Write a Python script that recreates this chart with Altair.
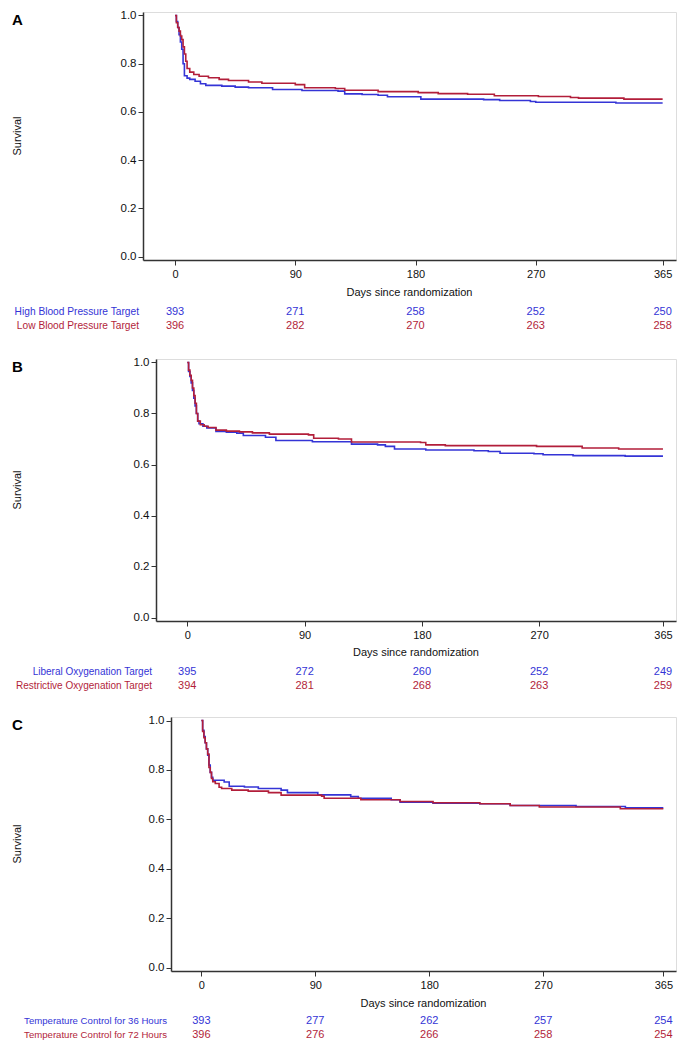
import altair as alt
import pandas as pd

FONT = "Liberation Sans"
BLUE = "#3434D6"
RED = "#B21E3A"

TICK_DAYS = [0, 90, 180, 270, 365]
Y_TICKS = [0.0, 0.2, 0.4, 0.6, 0.8, 1.0]
X_TITLE = "Days since randomization"
Y_TITLE = "Survival"

# ---------------- Panel A ----------------
A_LABELS = ["High Blood Pressure Target", "Low Blood Pressure Target"]
A_RISK_BLUE = [393, 271, 258, 252, 250]
A_RISK_RED = [396, 282, 270, 263, 258]
A_BLUE_DAYS = [0, 1, 2, 3, 4, 5, 6, 7, 9, 11, 15, 19, 23, 35, 45, 55, 73, 95, 122, 127, 140, 152, 159, 184, 231, 243, 266, 270, 330, 365]
A_BLUE_SURV = [1.0, 0.975, 0.95, 0.92, 0.89, 0.86, 0.80, 0.75, 0.74, 0.735, 0.727, 0.717, 0.71, 0.707, 0.703, 0.70, 0.693, 0.689, 0.686, 0.675, 0.672, 0.669, 0.663, 0.653, 0.651, 0.647, 0.643, 0.640, 0.637, 0.637]
A_RED_DAYS = [0, 1, 2, 3, 4, 5, 6, 7, 8, 9, 11, 14, 18, 25, 33, 40, 55, 65, 90, 97, 120, 127, 152, 182, 197, 219, 239, 272, 296, 302, 336, 365]
A_RED_SURV = [1.0, 0.97, 0.95, 0.935, 0.915, 0.90, 0.87, 0.84, 0.81, 0.78, 0.765, 0.755, 0.748, 0.742, 0.735, 0.73, 0.724, 0.719, 0.713, 0.70, 0.697, 0.690, 0.684, 0.680, 0.676, 0.673, 0.667, 0.664, 0.660, 0.657, 0.653, 0.653]

# ---------------- Panel B ----------------
B_LABELS = ["Liberal Oxygenation Target", "Restrictive Oxygenation Target"]
B_RISK_BLUE = [395, 272, 260, 252, 249]
B_RISK_RED = [394, 281, 268, 263, 259]
B_BLUE_DAYS = [0, 1, 2, 3, 4, 5, 6, 7, 8, 9, 12, 15, 22, 30, 38, 43, 60, 68, 96, 126, 146, 152, 159, 183, 220, 231, 240, 266, 273, 296, 336, 365]
B_BLUE_SURV = [1.0, 0.965, 0.945, 0.92, 0.89, 0.86, 0.83, 0.80, 0.77, 0.76, 0.75, 0.743, 0.73, 0.727, 0.723, 0.714, 0.707, 0.694, 0.689, 0.680, 0.677, 0.671, 0.661, 0.657, 0.654, 0.651, 0.644, 0.642, 0.638, 0.635, 0.633, 0.633]
B_RED_DAYS = [0, 1, 2, 3, 4, 5, 6, 7, 8, 10, 13, 16, 22, 30, 40, 50, 63, 93, 97, 116, 126, 179, 183, 198, 268, 303, 331, 365]
B_RED_SURV = [1.0, 0.97, 0.95, 0.93, 0.90, 0.87, 0.84, 0.80, 0.77, 0.756, 0.75, 0.745, 0.735, 0.731, 0.728, 0.724, 0.719, 0.716, 0.703, 0.700, 0.688, 0.686, 0.677, 0.674, 0.671, 0.665, 0.661, 0.661]

# ---------------- Panel C ----------------
C_LABELS = ["Temperature Control for 36 Hours", "Temperature Control for 72 Hours"]
C_RISK_BLUE = [393, 277, 262, 257, 254]
C_RISK_RED = [396, 276, 266, 258, 254]
C_BLUE_DAYS = [0, 1, 2, 3, 4, 5, 6, 7, 8, 9, 18, 22, 34, 45, 63, 68, 92, 118, 124, 150, 157, 183, 220, 244, 296, 335, 365]
C_BLUE_SURV = [1.0, 0.96, 0.935, 0.91, 0.885, 0.86, 0.82, 0.79, 0.77, 0.758, 0.751, 0.734, 0.731, 0.725, 0.718, 0.708, 0.699, 0.692, 0.685, 0.679, 0.669, 0.665, 0.663, 0.656, 0.652, 0.647, 0.647]
C_RED_DAYS = [0, 1, 2, 3, 4, 5, 6, 7, 8, 9, 11, 14, 16, 24, 37, 53, 63, 95, 97, 126, 157, 183, 220, 244, 267, 331, 365]
C_RED_SURV = [1.0, 0.956, 0.93, 0.91, 0.885, 0.864, 0.81, 0.79, 0.765, 0.752, 0.745, 0.73, 0.725, 0.718, 0.714, 0.708, 0.698, 0.694, 0.685, 0.679, 0.672, 0.667, 0.663, 0.656, 0.650, 0.643, 0.643]


def panel(letter, labels, bd, bs, rd, rs, nb, nr, W, H, lx, lab_size,
          row_h, t_off, r1, r2):
    pad = 3.5 / (H - 7)
    xs = alt.Scale(domain=[-24, 375], nice=False, zero=False)
    ys = alt.Scale(domain=[-pad, 1 + pad], nice=False, zero=False)
    xaxis = alt.Axis(values=TICK_DAYS, title=None, grid=False, tickSize=5,
                     labelPadding=3, labelFontSize=11, labelFont=FONT,
                     labelColor="#111", domainColor="#333", domainWidth=1.5,
                     tickColor="#333", tickWidth=1)
    yaxis = alt.Axis(values=Y_TICKS, format=".1f", title=None, grid=False,
                     tickSize=5, labelPadding=2, labelFontSize=11.5,
                     labelFont=FONT, labelColor="#111", domainColor="#333",
                     domainWidth=1.5, tickColor="#333", tickWidth=1)

    blue_df = pd.DataFrame({"day": bd, "surv": bs})
    red_df = pd.DataFrame({"day": rd, "surv": rs})

    blue = alt.Chart(blue_df).mark_line(
        interpolate="step-after", color=BLUE, strokeWidth=1.6
    ).encode(x=alt.X("day:Q", scale=xs, axis=xaxis),
             y=alt.Y("surv:Q", scale=ys, axis=yaxis))
    red = alt.Chart(red_df).mark_line(
        interpolate="step-after", color=RED, strokeWidth=1.6
    ).encode(x=alt.X("day:Q"), y=alt.Y("surv:Q"))

    risk_b = alt.Chart(pd.DataFrame({"day": TICK_DAYS, "n": nb})).mark_text(
        color=BLUE, fontSize=11, font=FONT, baseline="middle"
    ).encode(x=alt.X("day:Q"), y=alt.value(H + r1), text="n:Q")
    risk_r = alt.Chart(pd.DataFrame({"day": TICK_DAYS, "n": nr})).mark_text(
        color=RED, fontSize=11, font=FONT, baseline="middle"
    ).encode(x=alt.X("day:Q"), y=alt.value(H + r2), text="n:Q")

    lab_b = alt.Chart(pd.DataFrame({"t": [labels[0]]})).mark_text(
        color=BLUE, fontSize=lab_size, font=FONT, align="right", baseline="middle"
    ).encode(x=alt.value(-4), y=alt.value(H + r1), text="t:N")
    lab_r = alt.Chart(pd.DataFrame({"t": [labels[1]]})).mark_text(
        color=RED, fontSize=lab_size, font=FONT, align="right", baseline="middle"
    ).encode(x=alt.value(-4), y=alt.value(H + r2), text="t:N")

    xtitle = alt.Chart(pd.DataFrame({"t": [X_TITLE]})).mark_text(
        color="#111", fontSize=11, font=FONT, align="center", baseline="middle"
    ).encode(x=alt.value(W / 2), y=alt.value(H + t_off), text="t:N")
    ytitle = alt.Chart(pd.DataFrame({"t": [Y_TITLE]})).mark_text(
        color="#111", fontSize=11, font=FONT, align="center", baseline="middle", angle=270
    ).encode(x=alt.value(lx + 6), y=alt.value(H / 2), text="t:N")
    let = alt.Chart(pd.DataFrame({"t": [letter]})).mark_text(
        color="#000", fontSize=15, font=FONT, fontWeight="bold", align="left", baseline="top"
    ).encode(x=alt.value(lx), y=alt.value(1), text="t:N")

    main = alt.layer(blue, red, risk_b, risk_r, lab_b, lab_r, xtitle, ytitle, let).properties(
        width=W, height=H)

    spacer = alt.Chart(pd.DataFrame({"v": [0]})).mark_point(
        opacity=0, size=0, strokeWidth=0
    ).encode(x=alt.value(0), y=alt.value(0)).properties(
        width=1, height=row_h, view=alt.ViewConfig(stroke="transparent"))
    return alt.hconcat(spacer, main, spacing=0)


pA = panel("A", A_LABELS, A_BLUE_DAYS, A_BLUE_SURV, A_RED_DAYS, A_RED_SURV,
           A_RISK_BLUE, A_RISK_RED, W=533, H=248, lx=-131,
           lab_size=10.2, row_h=342, t_off=33, r1=52, r2=66)
pB = panel("B", B_LABELS, B_BLUE_DAYS, B_BLUE_SURV, B_RED_DAYS, B_RED_SURV,
           B_RISK_BLUE, B_RISK_RED, W=520, H=262, lx=-144,
           lab_size=10.0, row_h=354, t_off=32, r1=51, r2=65)
pC = panel("C", C_LABELS, C_BLUE_DAYS, C_BLUE_SURV, C_RED_DAYS, C_RED_SURV,
           C_RISK_BLUE, C_RISK_RED, W=505, H=254, lx=-159,
           lab_size=9.6, row_h=10, t_off=33, r1=50, r2=64)

chart = alt.vconcat(pA, pB, pC, spacing=0).properties(
    padding={"left": 0, "top": 0, "right": 0, "bottom": 0}
).configure_view(stroke="#8a8a8a", strokeWidth=1.5).configure(font=FONT)

chart.save("out.html", embed_options={"renderer": "svg", "actions": False})
